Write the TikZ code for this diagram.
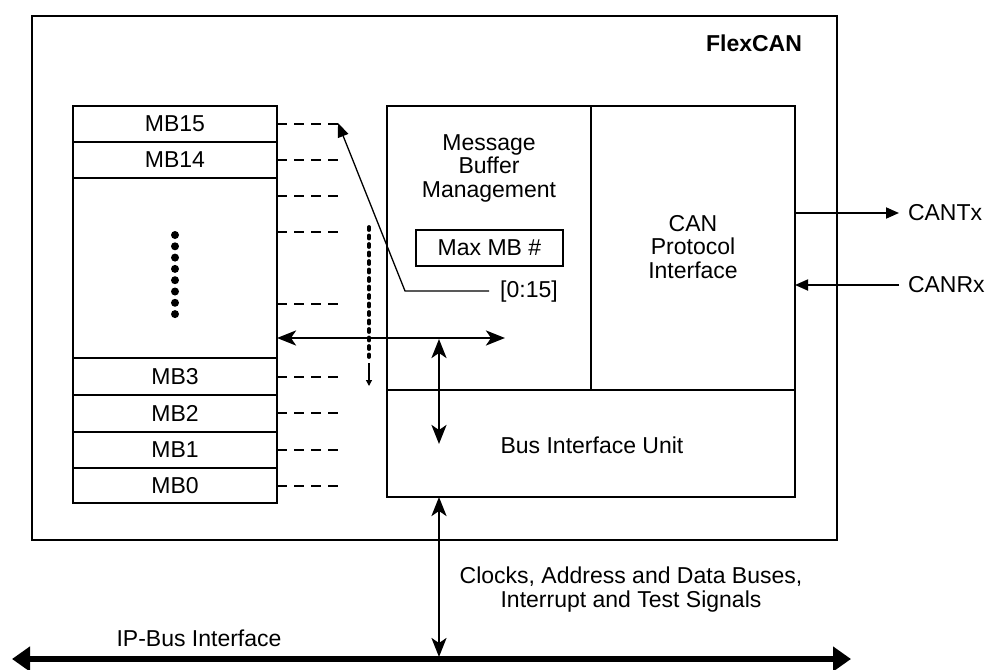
\documentclass[tikz,border=0pt]{standalone}
\usepackage{fontspec}
\setmainfont{Liberation Sans}
\usetikzlibrary{arrows.meta}
\begin{document}
\begin{tikzpicture}[x=1pt,y=-1pt,
  every node/.style={font=\fontsize{23}{23.5}\selectfont, inner sep=0pt, outer sep=0pt},
  box/.style={draw, line width=1.8pt, minimum width=#1},
  lbl/.style={align=center},
  dashline/.style={line width=1.8pt, dash pattern=on 10pt off 7pt},
  sig/.style={line width=1.8pt, -{Triangle[length=13pt,width=11pt]}},
  dbl/.style={line width=2.7pt, {Stealth[length=19pt,width=15pt,inset=5pt]}-{Stealth[length=19pt,width=15pt,inset=5pt]}},
]
\useasboundingbox (0,0) rectangle (990,669);
% outer FlexCAN box
\node[box=805pt, minimum height=524pt] (outer) at (434.5,278) {};
\node[font=\fontsize{23}{23.5}\selectfont\bfseries] (flex) at (754,43) {FlexCAN};
% message buffers
\node[box=204pt, minimum height=36pt] (mb15) at (175,124) {MB15};
\node[box=204pt, minimum height=36pt] (mb14) at (175,160) {MB14};
\node[box=204pt, minimum height=180pt] (mbx) at (175,268) {};
\node[box=204pt, minimum height=37pt] (mb3) at (175,376.5) {MB3};
\node[box=204pt, minimum height=37pt] (mb2) at (175,413.5) {MB2};
\node[box=204pt, minimum height=36pt] (mb1) at (175,450) {MB1};
\node[box=204pt, minimum height=35pt] (mb0) at (175,485.5) {MB0};
\draw[line width=2.6pt] (mb1.south west) -- (mb1.south east);
\foreach \k in {0,...,7} \fill (175,235+\k*11.3) circle (4pt);
% dashed lines
\foreach \nm/\yy in {mb15/124,mb14/160,mbx/196,mbx/232,mbx/304,mb3/377,mb2/413,mb1/450,mb0/486}
  \draw[dashline] (\nm.east |- 0,\yy) -- ++(61,0);
% inner blocks
\node[box=204pt, minimum height=284pt] (mbm) at (489,248) {};
\node[box=204pt, minimum height=284pt] (cpi) at (693,248) {};
\node[box=408pt, minimum height=107pt] (biu) at (591,443.5) {};
\node[lbl] (mbmt) at (489,168) {Message\\Buffer\\Management};
\node[lbl] (cpit) at (693,247) {CAN\\Protocol\\Interface};
\node (biut) at (592,445) {Bus Interface Unit};
\node[draw, line width=1.8pt, minimum width=147pt, minimum height=36pt] (maxmb) at (489.5,248) {Max MB \#};
\node (range) at (529,292) {[0:15]};
% pointer from [0:15] to MB15
\coordinate (rs) at (489,291);
\coordinate (bend) at (405,291);
\coordinate (tip15) at (338,123);
\draw[line width=1.3pt, -{Triangle[length=14pt,width=11pt]}] (rs) -- (bend) -- (tip15);
% dotted scan line
\coordinate (dt) at (369,227);
\coordinate (dm) at (369,357);
\coordinate (ds) at (369,363);
\coordinate (db) at (369,386);
\draw[line width=3.8pt, line cap=round, dash pattern=on 3pt off 5.5pt] (dt) -- (dm);
\draw[line width=1.2pt, -{Triangle[length=6pt,width=6pt]}] (ds) -- (db);
% internal bus arrows
\coordinate (hl) at (277,338);
\coordinate (hr) at (505,338);
\coordinate (vt) at (439,339);
\coordinate (vb) at (439,444);
\draw[dbl] (hl) -- (hr);
\draw[dbl] (vt) -- (vb);
% CAN signals
\node[anchor=west] (cantx) at (908,213) {CANTx};
\node[anchor=west] (canrx) at (908,285) {CANRx};
\coordinate (txe) at (899,213);
\coordinate (rxs) at (899,285);
\draw[sig] (cpi.east |- txe) -- (txe);
\draw[sig] (rxs) -- (cpi.east |- rxs);
% IP bus
\coordinate (busl) at (12,659);
\coordinate (busr) at (851,659);
\coordinate (busj) at (439,657);
\draw[line width=5.5pt, {Triangle[length=18pt,width=24pt]}-{Triangle[length=18pt,width=24pt]}] (busl) -- (busr);
\draw[dbl] (biu.south -| busj) -- (busj);
\node[lbl] (sigt) at (631,589.5) {Clocks, Address and Data Buses,\\Interrupt and Test Signals};
\node (ipbus) at (199,638) {IP-Bus Interface};
\end{tikzpicture}
\end{document}
